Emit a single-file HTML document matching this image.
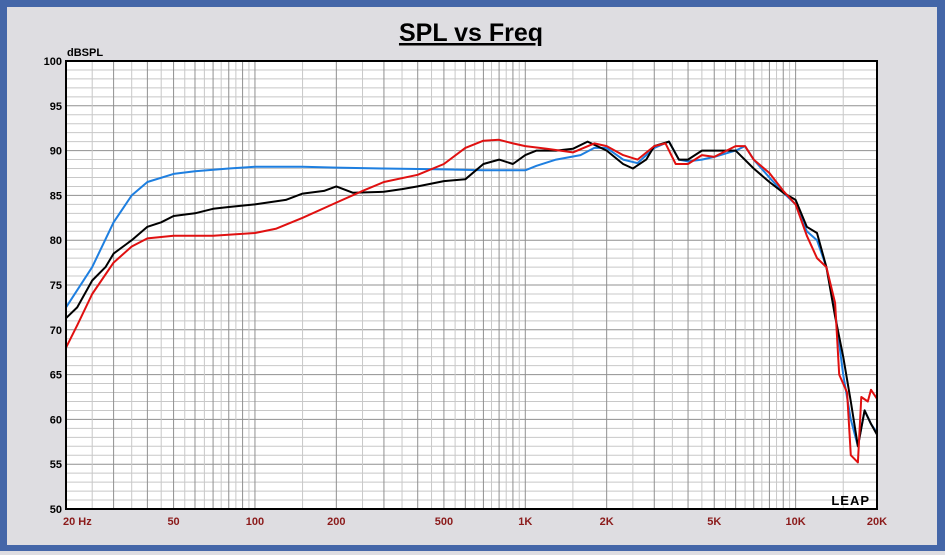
<!DOCTYPE html>
<html><head><meta charset="utf-8"><style>
body{margin:0;width:945px;height:555px;overflow:hidden;background:#fff;font-family:"Liberation Sans",sans-serif}
#wrap{position:absolute;left:0;top:0;width:945px;height:555px;background:#dedde1}
</style></head><body>
<div id="wrap">
<svg id="chart" width="945" height="555">
<rect x="0" y="0" width="945" height="7" fill="#4466a8"/>
<rect x="0" y="0" width="7" height="545" fill="#4466a8"/>
<rect x="937" y="0" width="8" height="545" fill="#4466a8"/>
<rect x="0" y="545" width="945" height="6" fill="#4466a8"/>
<text x="471" y="41" text-anchor="middle" font-size="25" font-weight="bold" text-decoration="underline">SPL vs Freq</text>
<text x="67" y="56" font-size="11" font-weight="bold">dBSPL</text>
<rect x="66" y="61" width="811" height="448" fill="#fff"/>
<g id="grid"></g><g id="series"></g>
<rect x="66" y="61" width="811" height="448" fill="none" stroke="#000" stroke-width="2"/>
<text x="870" y="505" text-anchor="end" font-size="13" font-weight="bold" letter-spacing="1">LEAP</text>
<g id="labels"></g>
</svg></div>
<script>
const yTicks=[100,95,90,85,80,75,70,65,60,55,50];
const xTickVals=[20,50,100,200,500,1000,2000,5000,10000,20000];
const xTickLabels=["20  Hz","50","100","200","500","1K","2K","5K","10K","20K"];
const blueF=[20,25,30,35,40,50,60,80,100,150,200,300,500,700,1000,1100,1300,1600,1800,2000,2300,2600,3000,3400,3700,4000,4500,5000,6000,6500,7000,8000,9000,10000,11000,12000,13000,14000,15000,16000,17000,18000,19000,20000];
const blueV=[72.5,77,82,85,86.5,87.4,87.7,88,88.2,88.2,88.1,88,87.9,87.8,87.8,88.3,89,89.5,90.3,90.3,89,88.6,90.3,91,89,88.8,89,89.3,90,90.5,89,87,85.3,84,81,80,77,72,65,60,57,61,59.5,58.5];
const blackF=[20,22,25,28,30,35,40,45,50,60,70,80,100,130,150,180,200,230,300,350,400,500,600,700,800,900,1000,1100,1300,1500,1700,2000,2300,2500,2800,3000,3400,3700,4000,4500,5000,6000,7000,8000,9000,10000,11000,12000,13000,14000,15000,16000,17000,18000,19000,20000];
const blackV=[71.3,72.5,75.5,77,78.5,80,81.5,82,82.7,83,83.5,83.7,84,84.5,85.2,85.5,86,85.3,85.4,85.7,86,86.6,86.8,88.5,89,88.5,89.5,90,90,90.2,91,90,88.5,88,89,90.5,91,89,89,90,90,90,88,86.5,85.3,84.5,81.5,80.8,77,71.5,67,62,57,61,59.5,58.3];
const redF=[20,22,25,30,35,40,50,70,100,120,150,200,250,300,400,500,600,700,800,900,1000,1200,1500,1800,2000,2300,2600,3000,3300,3600,4000,4500,5000,6000,6500,7000,8000,9000,10000,11000,12000,13000,14000,14500,15500,16000,17000,17500,18500,19000,20000];
const redV=[68,70.5,74,77.5,79.3,80.2,80.5,80.5,80.8,81.3,82.5,84.2,85.5,86.5,87.3,88.5,90.3,91.1,91.2,90.8,90.5,90.2,89.8,90.8,90.5,89.5,89,90.5,90.8,88.5,88.5,89.5,89.3,90.5,90.5,89,87.5,85.5,84,80.5,78,77,73,65,63,56,55.2,62.5,62,63.3,62.3];
const X0=66,X1=877,Y0=61,Y1=509;
const xs=f=>X0+(Math.log10(f)-Math.log10(20))/3*(X1-X0);
const ys=v=>Y1-(v-50)/50*(Y1-Y0);
const NS="http://www.w3.org/2000/svg";
function mk(t,a,p){const e=document.createElementNS(NS,t);for(const k in a)e.setAttribute(k,a[k]);p.appendChild(e);return e;}
const grid=document.getElementById('grid');
for(let d=50;d<=100;d++){const l=mk('line',{x1:X0,x2:X1,y1:ys(d),y2:ys(d),stroke:d%5?'#c8c8c8':'#909090','stroke-width':1},grid);
}
[10,100,1000,10000].forEach(dec=>{for(let n=1;n<10;n+=0.5){const f=dec*n;if(f<20||f>20000)continue;const x=xs(f);
const l=mk('line',{x1:x,x2:x,y1:Y0,y2:Y1,stroke:Number.isInteger(n)?'#909090':'#c8c8c8','stroke-width':1},grid);
}});
const lab=document.getElementById('labels');
yTicks.forEach(v=>{const t=mk('text',{x:62,y:ys(v)+4,'text-anchor':'end','font-size':11,'font-weight':'bold'},lab);t.textContent=v;
});
xTickVals.forEach((f,i)=>{const t=mk('text',{x:i==0?X0-3:xs(f),y:525,'text-anchor':i==0?'start':'middle','font-size':11,'font-weight':'bold',fill:'#8b1a1a','xml:space':'preserve'},lab);t.textContent=xTickLabels[i];
});
const ser=document.getElementById('series');
[[blueF,blueV,'#1e7fe0','blue-curve'],[blackF,blackV,'#000','black-curve'],[redF,redV,'#e01010','red-curve']].forEach(([F,V,c,n])=>{
const p=mk('polyline',{points:F.map((f,i)=>xs(f).toFixed(1)+','+ys(V[i]).toFixed(1)).join(' '),fill:'none',stroke:c,'stroke-width':2,'stroke-linejoin':'round'},ser);
});
</script></body></html>
